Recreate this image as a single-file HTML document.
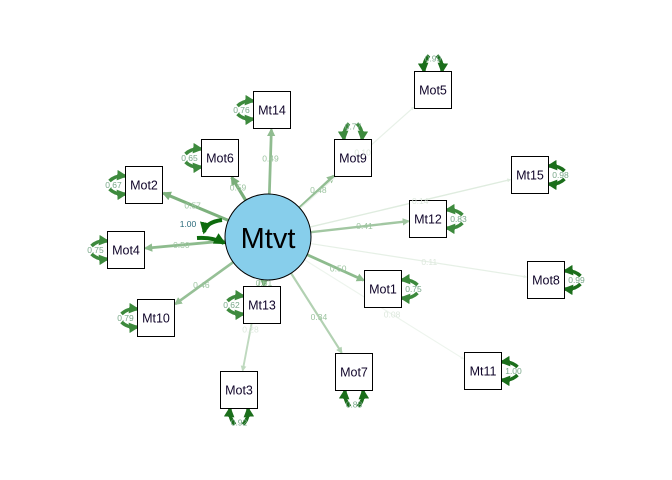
<!DOCTYPE html>
<html><head><meta charset="utf-8"><style>
body{margin:0;background:#fff}
svg{display:block;font-family:"Liberation Sans",Arial,sans-serif}
</style></head><body>
<svg id="c" width="672" height="480" viewBox="0 0 672 480">
<defs>
<marker id="ah" viewBox="0 0 10 10" refX="8" refY="5" markerWidth="3" markerHeight="3" orient="auto-start-reverse" markerUnits="strokeWidth"><path d="M0,0L10,5L0,10z" fill="context-stroke"/></marker>
</defs>
<g id="edges"></g><g id="res"></g><g id="nodes"></g><g id="labels"></g>
</svg>
<script>
const names=["Mt14","Mot6","Mot2","Mot4","Mot9","Mot5","Mt15","Mt12","Mot8","Mot1","Mt10","Mt13","Mot3","Mot7","Mt11"];
const loadings=[0.49,0.59,0.57,0.50,0.48,0.10,0.14,0.41,0.11,0.50,0.46,0.61,0.28,0.34,0.08];
const residuals=[0.76,0.65,0.67,0.75,0.77,0.99,0.98,0.83,0.99,0.75,0.79,0.62,0.92,0.88,1.00];
const posX=[272,220,144,126,353,433,530,428,546,383,156,262,239,354,483];
const posY=[110,158,185,250,158,90,175,219,280,289,318,305,390,372,371];
const sides=["L","L","L","L","T","T","R","R","R","R","L","L","B","B","R"];
const NS="http://www.w3.org/2000/svg";
const cx=268,cy=237,R=43,H=18.5;
function mk(t,a,p){const e=document.createElementNS(NS,t);for(const k in a)e.setAttribute(k,a[k]);document.getElementById(p).appendChild(e);return e;}
function col(w){const a=Math.min(1,w*1.3);const r=Math.round(255-(255-80)*a),g=Math.round(255-(255-150)*a),b=Math.round(255-(255-80)*a);return `rgb(${r},${g},${b})`;}
names.forEach((n,i)=>{
  const x=posX[i],y=posY[i],dx=x-cx,dy=y-cy,L=Math.hypot(dx,dy),ux=dx/L,uy=dy/L;
  const t=Math.min(H/Math.abs(ux||1e-9),H/Math.abs(uy||1e-9));
  const x1=cx+ux*R,y1=cy+uy*R,x2=x-ux*(t+1),y2=y-uy*(t+1);
  const l=mk("line",{x1,y1,x2,y2,stroke:col(loadings[i]),"stroke-width":0.8+loadings[i]*4,"marker-end":"url(#ah)"},"edges");
  
  
  const f=0.55,lx=x1+(x2-x1)*f,ly=y1+(y2-y1)*f;
  const tx=mk("text",{x:lx,y:ly+3,"font-size":8.5,"text-anchor":"middle",fill:loadings[i]>0.3?"#9cc4a0":"#dde8dd"},"labels");
  tx.textContent=loadings[i].toFixed(2);
  
  
  const s=sides[i],rc=residuals[i]>0.85?"#1b6e1b":"#3d8a3d";
  let ds=[],lab;
  if(s==="L"){ds=[`M${x-H-16},${y-4} Q${x-H-10},${y-10} ${x-H},${y-9}`,`M${x-H-16},${y+4} Q${x-H-10},${y+10} ${x-H},${y+9}`];lab=[x-H-12,y+3];}
  if(s==="R"){ds=[`M${x+H+16},${y-4} Q${x+H+10},${y-10} ${x+H},${y-9}`,`M${x+H+16},${y+4} Q${x+H+10},${y+10} ${x+H},${y+9}`];lab=[x+H+12,y+3];}
  if(s==="T"){ds=[`M${x-4},${y-H-16} Q${x-10},${y-H-10} ${x-9},${y-H}`,`M${x+4},${y-H-16} Q${x+10},${y-H-10} ${x+9},${y-H}`];lab=[x,y-H-10];}
  if(s==="B"){ds=[`M${x-4},${y+H+16} Q${x-10},${y+H+10} ${x-9},${y+H}`,`M${x+4},${y+H+16} Q${x+10},${y+H+10} ${x+9},${y+H}`];lab=[x,y+H+17];}
  ds.forEach(d=>{const r=mk("path",{d,fill:"none",stroke:rc,"stroke-width":3.5,"marker-end":"url(#ah)"},"res");
    
    });
  const rt=mk("text",{x:lab[0],y:lab[1],"font-size":8.5,"text-anchor":"middle",fill:"#7aa88a"},"labels");
  rt.textContent=residuals[i].toFixed(2);
  
  
  const g=mk("g",{},"nodes");
  
  
  const rect=document.createElementNS(NS,"rect");
  rect.setAttribute("x",x-H);rect.setAttribute("y",y-H);rect.setAttribute("width",2*H);rect.setAttribute("height",2*H);
  rect.setAttribute("fill","#fff");rect.setAttribute("stroke","#000");g.appendChild(rect);
  const nt=document.createElementNS(NS,"text");
  nt.setAttribute("x",x);nt.setAttribute("y",y+4.5);nt.setAttribute("font-size",12.5);nt.setAttribute("text-anchor","middle");nt.setAttribute("fill","#10052a");
  nt.textContent=n;g.appendChild(nt);
});
const svg=document.getElementById("c");
const lv=document.createElementNS(NS,"g");


lv.innerHTML='<path d="M222,220 Q206,222 204,232" stroke="#0d6b0d" stroke-width="4" fill="none" marker-end="url(#ah)"/><path d="M197,238 Q213,237 224,243" stroke="#0d6b0d" stroke-width="4" fill="none" marker-end="url(#ah)"/><text x="188" y="227" font-size="8.5" fill="#2a6a7a" text-anchor="middle">1.00</text><circle cx="268" cy="237" r="43" fill="#87ceeb" stroke="#000"/><text x="268" y="248" font-size="29" text-anchor="middle" fill="#000">Mtvt</text>';
svg.appendChild(lv);
</script>
</body></html>
